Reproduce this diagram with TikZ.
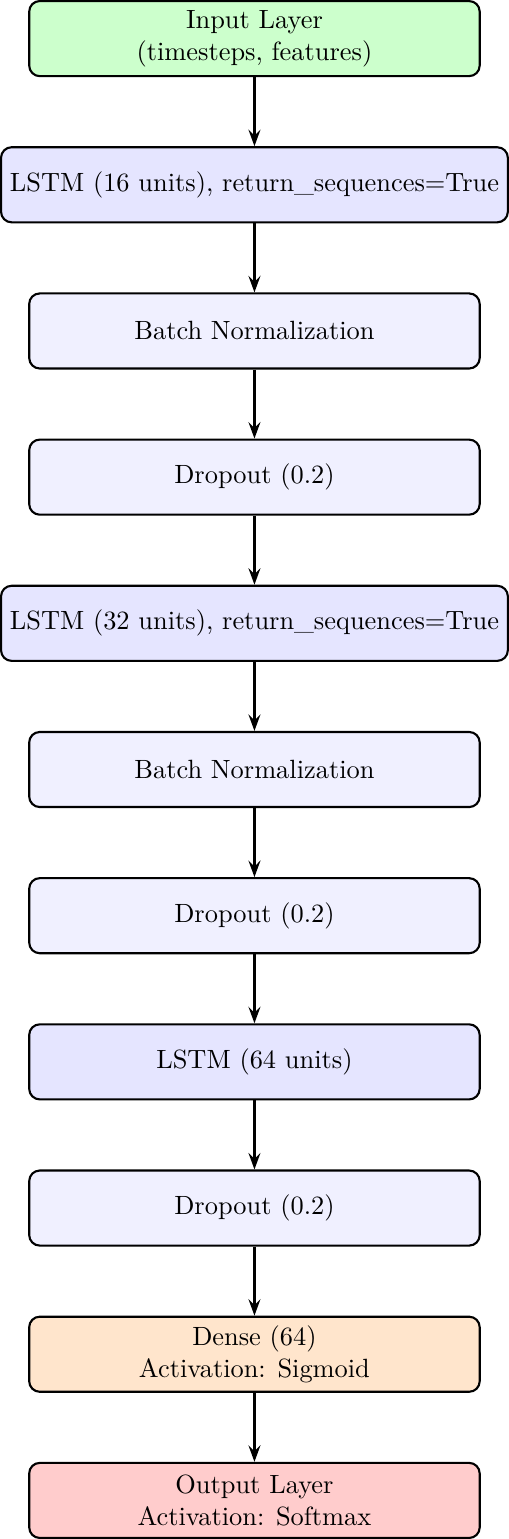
\documentclass[tikz,border=0pt]{standalone}
\usetikzlibrary{arrows.meta,positioning}
\begin{document}
\begin{tikzpicture}[
  layerbox/.style={draw=black, thick, rounded corners, minimum width=6cm, minimum height=1cm, align=center, inner sep=3.33pt},
  inputbox/.style={layerbox, fill=green!20},
  lstmbox/.style={layerbox, fill=blue!10},
  plainbox/.style={layerbox, fill=blue!6},
  densebox/.style={layerbox, fill=orange!20},
  outbox/.style={layerbox, fill=red!20},
  conn/.style={-{Stealth[length=2.2mm,width=1.6mm,inset=0.8mm]}, thick}
]
\def\dy{1.947}
\node[inputbox] (in) at (0,0) {Input Layer\\(timesteps, features)};
\node[lstmbox] (l1) at (0,-1*\dy) {LSTM (16 units), return\_sequences=True};
\node[plainbox] (b1) at (0,-2*\dy) {Batch Normalization};
\node[plainbox] (d1) at (0,-3*\dy) {Dropout (0.2)};
\node[lstmbox] (l2) at (0,-4*\dy) {LSTM (32 units), return\_sequences=True};
\node[plainbox] (b2) at (0,-5*\dy) {Batch Normalization};
\node[plainbox] (d2) at (0,-6*\dy) {Dropout (0.2)};
\node[lstmbox] (l3) at (0,-7*\dy) {LSTM (64 units)};
\node[plainbox] (d3) at (0,-8*\dy) {Dropout (0.2)};
\node[densebox] (de) at (0,-9*\dy) {Dense (64)\\Activation: Sigmoid};
\node[outbox] (out) at (0,-10*\dy) {Output Layer\\Activation: Softmax};
\foreach \a/\b in {in/l1,l1/b1,b1/d1,d1/l2,l2/b2,b2/d2,d2/l3,l3/d3,d3/de,de/out}
  \draw[conn] (\a) -- (\b);
\end{tikzpicture}
\end{document}
